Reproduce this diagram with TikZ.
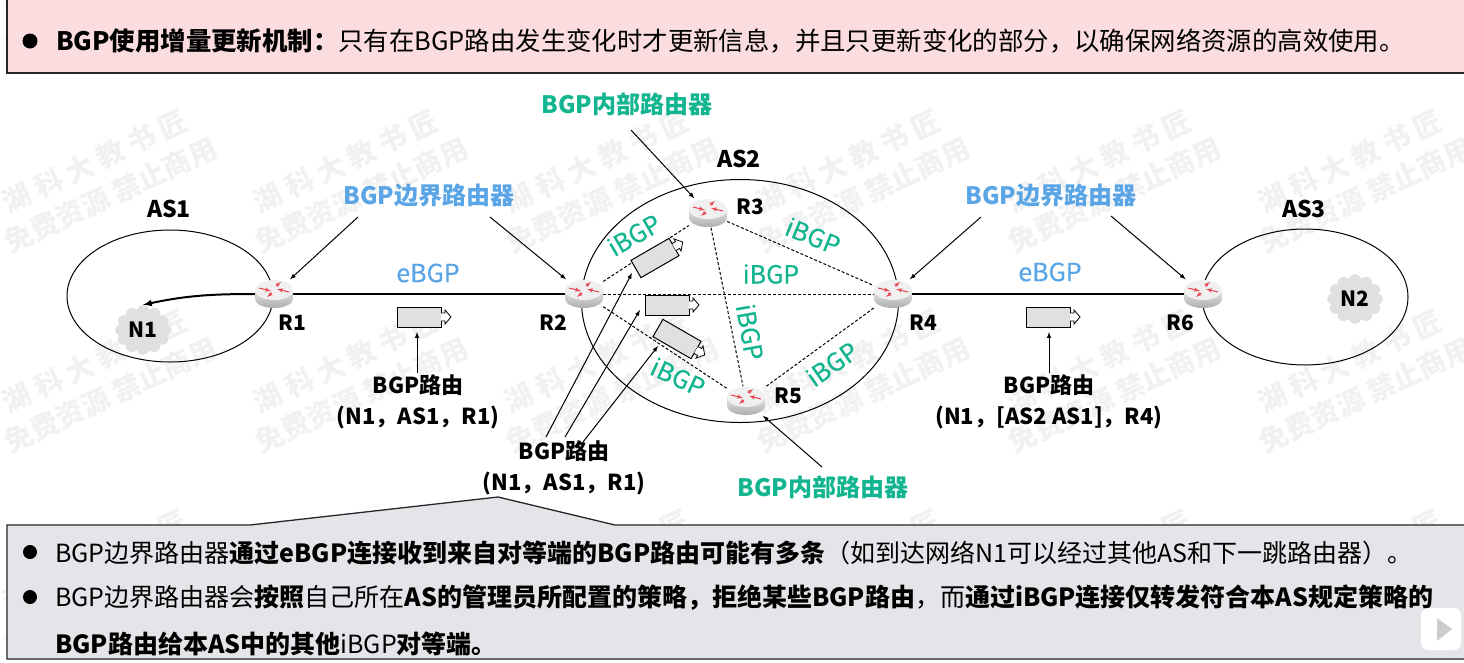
\documentclass[tikz,border=0pt]{standalone}
\usepackage{fontspec}
\setmainfont{Noto Sans CJK SC}
\newfontfamily\linkfont[FakeBold=0.35]{Noto Sans CJK SC}
\usepackage{xcolor}
\usetikzlibrary{shapes,arrows,positioning}
\definecolor{bgpblue}{HTML}{5AA5E6}
\definecolor{bgpgreen}{HTML}{12B58F}
\definecolor{topfill}{HTML}{FBDCDF}
\definecolor{boxfill}{HTML}{E4E5E9}
\definecolor{markfill}{HTML}{F1F1F1}
\definecolor{routerred}{HTML}{E8434F}
\newcommand{\cma}{\char"FF0C\relax}
\newcommand{\cln}{\char"FF1A\relax}
\newcommand{\lpr}{\char"FF08\relax}
\newcommand{\rpr}{\char"FF09\relax}
\tikzset{
    textbox/.style={rectangle, draw=black!85, line width=1.3pt},
    asring/.style={ellipse, draw, line width=1pt, inner sep=0pt},
    routerbox/.style={rectangle, minimum width=38pt, minimum height=29pt, inner sep=0pt},
    netcloud/.style={cloud, cloud puffs=12, fill=black!12, inner sep=0pt, minimum width=56pt, minimum height=50pt},
    ebgp/.style={draw, line width=2pt},
    ibgp/.style={draw, line width=1pt, dash pattern=on 3pt off 2pt},
    pointer/.style={draw, -latex, line width=1pt},
    nametext/.style={font=\fontsize{21}{25}\selectfont\bfseries, inner sep=0pt},
    bluetext/.style={nametext, text=bgpblue, font=\fontsize{24}{28}\selectfont\bfseries},
    greentext/.style={nametext, text=bgpgreen, font=\fontsize{24}{28}\selectfont\bfseries},
    ebgptext/.style={bluetext, font=\fontsize{25}{28}\linkfont},
    ibgptext/.style={greentext, font=\fontsize{25}{28}\linkfont},
    routetext/.style={nametext, align=center, font=\fontsize{22}{31}\selectfont\bfseries},
    linetext/.style={anchor=west, inner sep=0pt, font=\fontsize{25}{29}\selectfont},
    watermark/.style={inner sep=0pt, rotate=25, align=center, text=markfill, font=\fontsize{28}{37}\selectfont\bfseries},
    packet/.pic={
        \node[rectangle, draw, fill=black!12, line width=1pt, minimum width=44pt, minimum height=20pt, inner sep=0pt, transform shape] (-body) at (0,0) {};
        \draw[fill=white, line width=.8pt] (22,-4) -- (26,-4) -- (26,-7) -- (32,0) -- (26,7) -- (26,4) -- (22,4);
    }
}
\newcommand{\routericon}[1]{
    \begin{scope}[shift={(#1)}]
        \shade[bottom color=black!32, top color=black!10] (-19,-4) -- (-19,5) arc[start angle=180, end angle=0, x radius=19, y radius=9] -- (19,-4) -- cycle;
        \fill[black!6] (0,-4) ellipse[x radius=19, y radius=10];
        \draw[routerred, line width=1pt, -latex'] (-15,-6) -- (-3,-3);
        \draw[routerred, line width=1pt, -latex'] (15,-2) -- (3,-5);
        \draw[routerred, line width=1pt, -latex'] (2,-8) -- (7,-12);
        \draw[routerred, line width=1pt, -latex'] (-2,-1) -- (-7,3);
    \end{scope}
}
\begin{document}
\begin{tikzpicture}[x=1pt, y=-1pt]
    \useasboundingbox (0,0) rectangle (1464,662);

    % watermark
    \foreach \col in {0,...,5}
        \foreach \row in {0,...,3}
            \node[watermark] (wm\col\row) at (103+251*\col,-22+200*\row) {湖 科 大 教 书 匠\\免费资源 禁止商用};

    % text boxes
    \draw[textbox, fill=topfill] (7,-2) rectangle (1466,73);
    \fill (30,41) circle (7.5);
    \node[linetext, font=\fontsize{25.4}{29}\selectfont] (toptext) at (56,41) {\textbf{BGP使用增量更新机制\cln}只有在BGP路由发生变化时才更新信息\cma 并且只更新变化的部分\cma 以确保网络资源的高效使用。};

    \draw[textbox, fill=boxfill] (7,525) -- (250,525) -- (498,497) -- (615,525) -- (1466,525) -- (1466,659) -- (7,659) -- cycle;
    \fill (30,552) circle (7);
    \fill (30,597) circle (7);
    \node[linetext] (line1) at (55,553) {BGP边界路由器\textbf{通过eBGP连接收到来自对等端的BGP路由可能有多条}\lpr 如到达网络N1可以经过其他AS和下一跳路由器\rpr。};
    \node[linetext] (line2) at (55,598) {BGP边界路由器会\textbf{按照}自己所在\textbf{AS的管理员所配置的策略\cma 拒绝某些BGP路由}\cma 而\textbf{通过iBGP连接仅转发符合本AS规定策略的}};
    \node[linetext] (line3) at (55,644) {\textbf{BGP路由给本AS中的其他}iBGP\textbf{对等端。}};

    % player button
    \node[rectangle, rounded corners=7pt, fill=white, minimum width=40pt, minimum height=42pt] (play) at (1441,629) {};
    \fill[black!20] (1437,618) -- (1452,629) -- (1437,641) -- cycle;

    % autonomous systems
    \node[asring, minimum width=206pt, minimum height=132pt] (as1) at (170,296) {};
    \node[asring, minimum width=317pt, minimum height=243pt] (as2) at (740,301) {};
    \node[asring, minimum width=206pt, minimum height=136pt] (as3) at (1305,297) {};
    \node[nametext, font=\fontsize{23}{27}\selectfont\bfseries] (as1name) at (169,209) {AS1};
    \node[nametext, font=\fontsize{23}{27}\selectfont\bfseries] (as2name) at (739,159) {AS2};
    \node[nametext, font=\fontsize{23}{27}\selectfont\bfseries] (as3name) at (1304,209) {AS3};

    \node[netcloud] (n1) at (143,330) {};
    \node[netcloud] (n2) at (1355,299) {};
    \node[nametext] (n1name) at (n1) {N1};
    \node[nametext] (n2name) at (n2) {N2};

    % routers
    \node[routerbox] (r1) at (274,294) {};
    \node[routerbox] (r2) at (584,294) {};
    \node[routerbox] (r3) at (708,213) {};
    \node[routerbox] (r4) at (893,294) {};
    \node[routerbox] (r5) at (746,401) {};
    \node[routerbox] (r6) at (1203,294) {};

    \draw[ebgp] (r1) -- (r2);
    \draw[ebgp] (r4) -- (r6);
    \draw[ibgp] (r2) -- (r3);
    \draw[ibgp] (r2) -- (r4);
    \draw[ibgp] (r2) -- (r5);
    \draw[ibgp] (r3) -- (r4);
    \draw[ibgp] (r3) -- (r5);
    \draw[ibgp] (r4) -- (r5);
    \draw[-latex, line width=2pt] (r1.west) to[out=180, in=12] (n1.north);

    \foreach \r in {r1,r2,r3,r4,r5,r6}
        \routericon{\r};

    \node[nametext] (r1name) at (292,323) {R1};
    \node[nametext] (r2name) at (553,323) {R2};
    \node[nametext] (r3name) at (750,207) {R3};
    \node[nametext] (r4name) at (923,323) {R4};
    \node[nametext] (r5name) at (788,396) {R5};
    \node[nametext] (r6name) at (1180,323) {R6};

    % packets
    \pic (pk1) at (419,317) {packet};
    \pic[rotate=30] (pk2) at (655,258) {packet};
    \pic (pk3) at (667,305) {packet};
    \pic[rotate=-30] (pk4) at (677,339) {packet};
    \pic (pk5) at (1048,317) {packet};

    % link names
    \node[ebgptext] (ebgp1) at (428,273) {eBGP};
    \node[ebgptext] (ebgp2) at (1050,272) {eBGP};
    \node[ibgptext, rotate=30] (ibgp1) at (634,235) {iBGP};
    \node[ibgptext, rotate=-22] (ibgp2) at (813,236) {iBGP};
    \node[ibgptext] (ibgp3) at (771,274) {iBGP};
    \node[ibgptext, rotate=-80] (ibgp4) at (750,332) {iBGP};
    \node[ibgptext, rotate=-25] (ibgp5) at (678,377) {iBGP};
    \node[ibgptext, rotate=35] (ibgp6) at (832,364) {iBGP};

    % role names
    \node[bluetext] (edge1) at (429,195) {BGP边界路由器};
    \node[bluetext] (edge2) at (1051,195) {BGP边界路由器};
    \node[greentext] (inner1) at (627,104) {BGP内部路由器};
    \node[greentext] (inner2) at (823,487) {BGP内部路由器};
    \draw[pointer] (358,217) -- (r1);
    \draw[pointer] (490,217) -- (r2);
    \draw[pointer] (631,130) -- (r3);
    \draw[pointer] (981,217) -- (r4);
    \draw[pointer] (1111,216) -- (r6);
    \draw[pointer] (822,467) -- (r5);

    % routes
    \node[routetext] (route1) at (418,402) {BGP路由\\(N1\cma AS1\cma R1)};
    \node[routetext] (route2) at (564,468) {BGP路由\\(N1\cma AS1\cma R1)};
    \node[routetext] (route3) at (1049,402) {BGP路由\\(N1\cma [AS2 AS1]\cma R4)};
    \draw[pointer] (417,373) -- (417,332);
    \draw[pointer] (1049,373) -- (1049,332);
    \draw[pointer] (546,437) -- (632,273);
    \draw[pointer] (565,437) -- (640,310);
    \draw[pointer] (583,442) -- (658,346);
\end{tikzpicture}
\end{document}
